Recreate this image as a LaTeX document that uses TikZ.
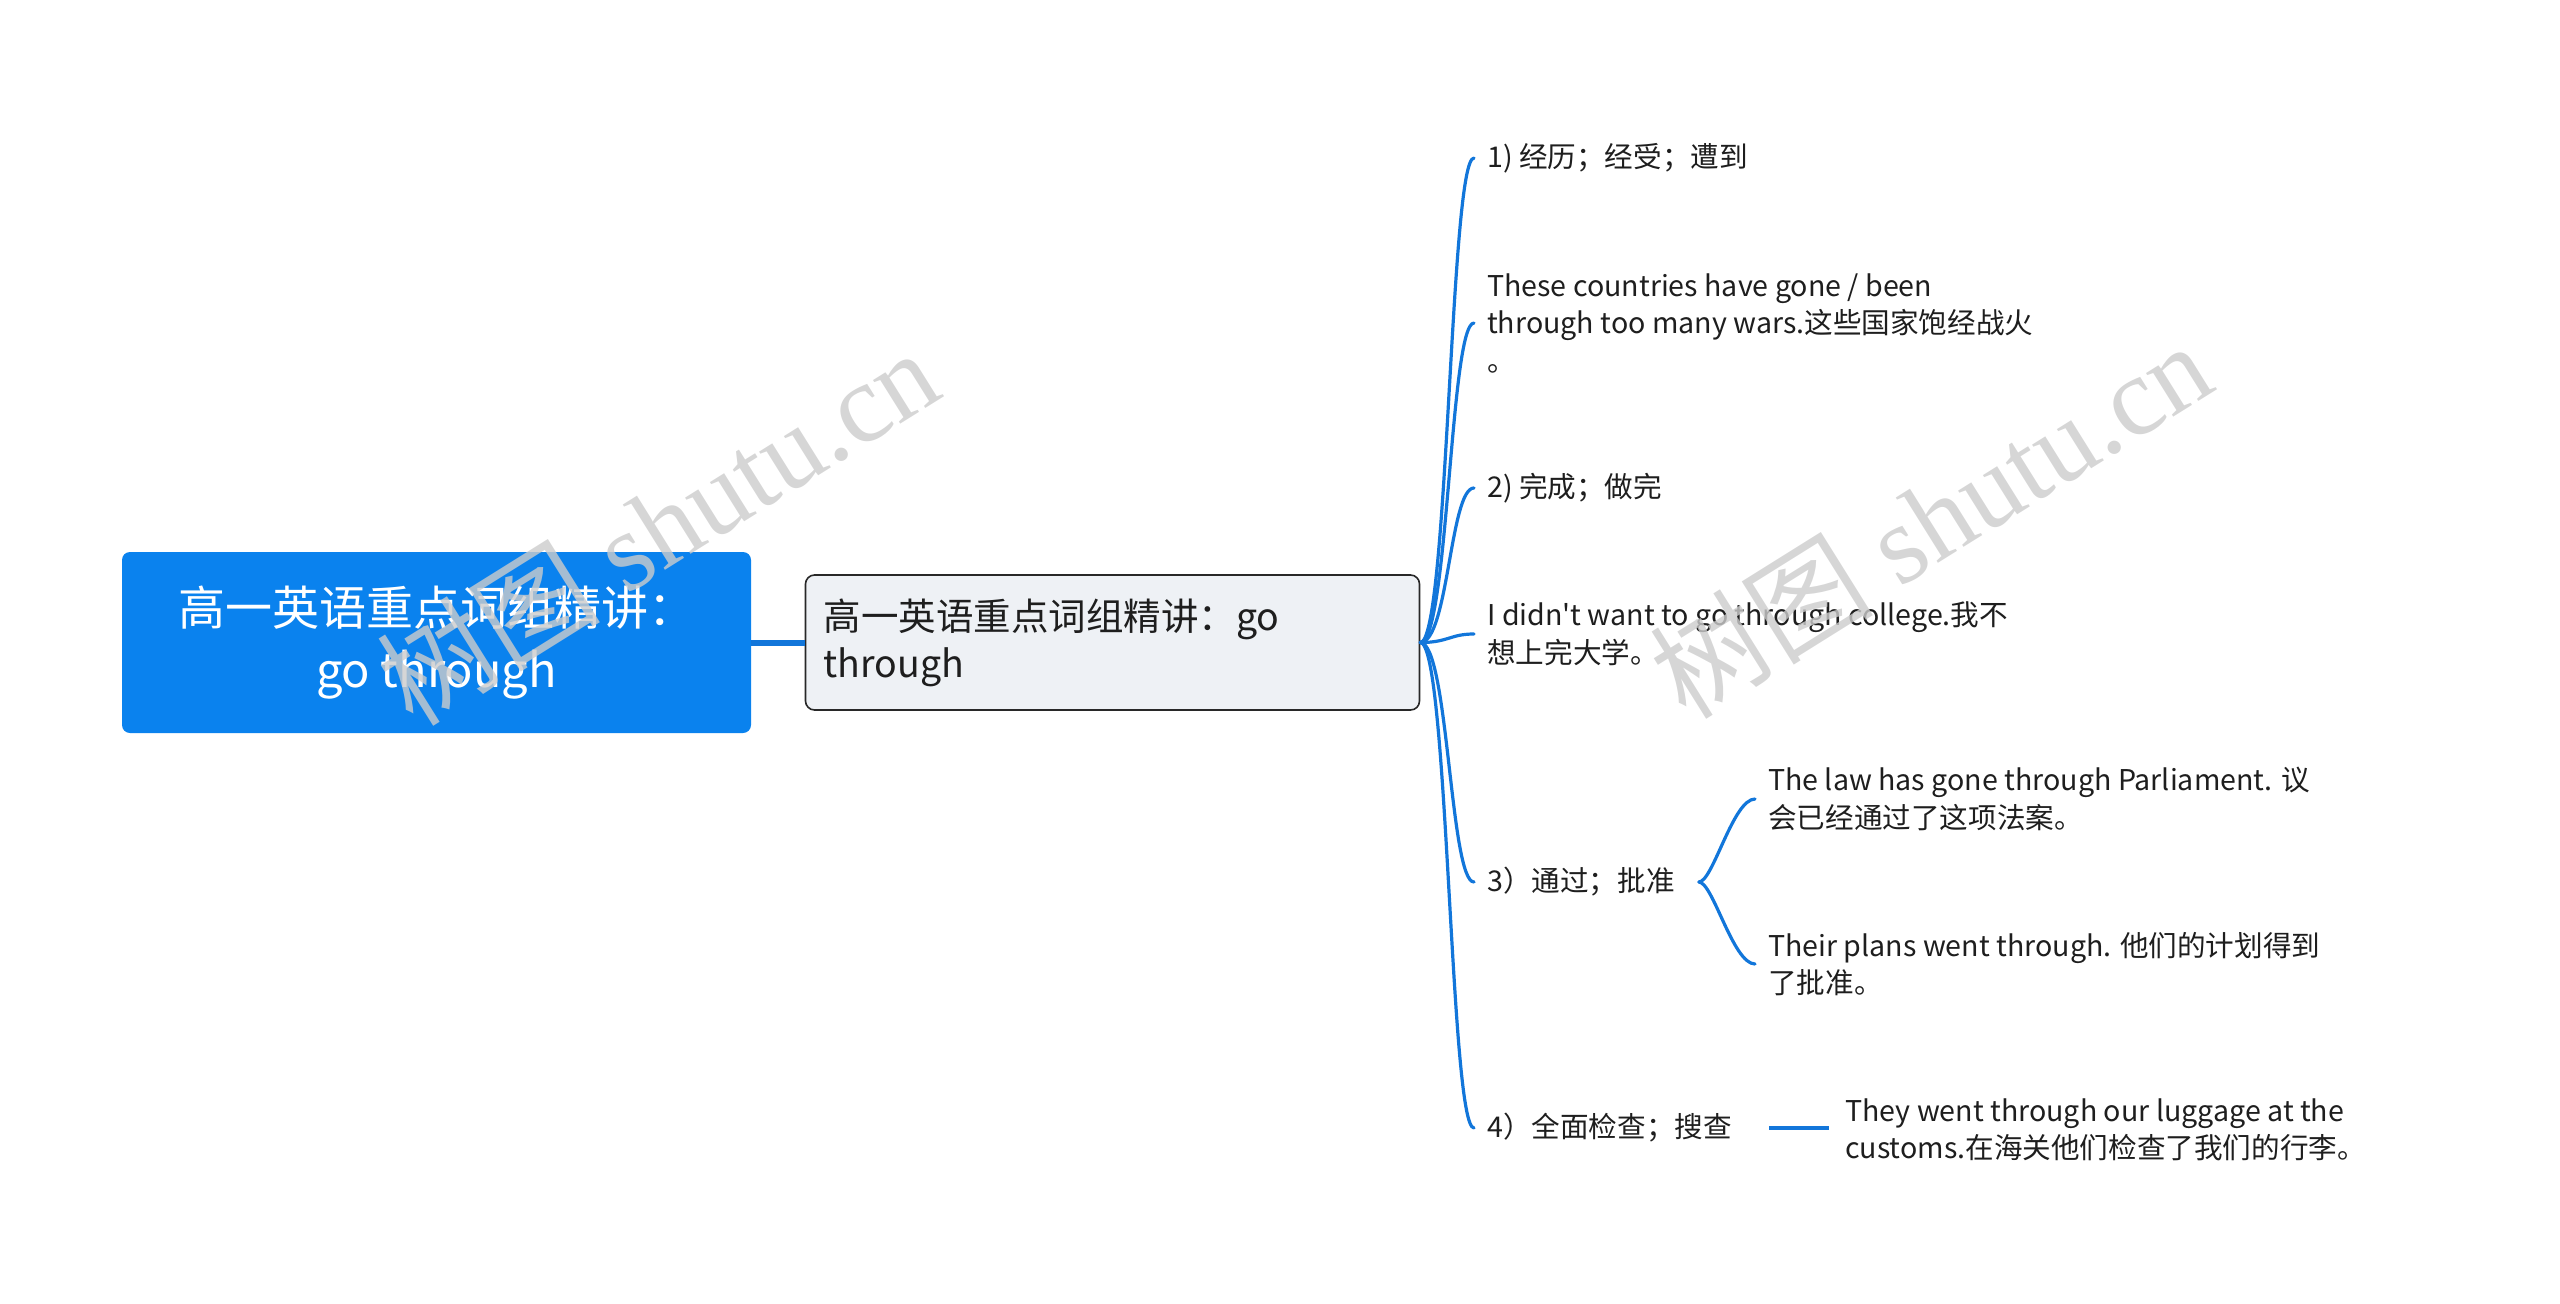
\documentclass[tikz,border=0pt]{standalone}
\usepackage{fontspec}
\newfontfamily\cjkmain{Noto Sans CJK SC}
\newfontfamily\wmlatin{Liberation Serif}
\newfontfamily\wmcjk{Noto Sans CJK SC}
\definecolor{rootblue}{RGB}{10,130,238}
\definecolor{linkblue}{RGB}{18,118,218}
\definecolor{subfill}{RGB}{238,241,245}
\definecolor{subdraw}{RGB}{40,40,40}
\definecolor{txt}{RGB}{30,30,30}
\begin{document}
\begin{tikzpicture}[x=1pt,y=-1pt,
  rootbox/.style={fill=rootblue,rounded corners=8pt,minimum width=629pt,minimum height=181pt,
    text=white,align=center,font=\cjkmain\fontsize{47}{62}\selectfont,inner sep=0pt},
  subbox/.style={fill=subfill,draw=subdraw,line width=1.6pt,rounded corners=9pt,minimum height=135pt,
    text width=578pt,inner xsep=18pt,align=left,text=txt,font=\cjkmain\fontsize{37.5}{47}\selectfont},
  leaf/.style={anchor=west,inner sep=0pt,align=left,text=txt,font=\cjkmain\fontsize{28.6}{37.5}\selectfont},
  conn/.style={draw=linkblue,line width=3.2pt,line cap=round},
  thick conn/.style={draw=linkblue,line width=6pt},
  wm/.style={text=black!20,opacity=0.8,rotate=32,inner sep=0pt}
]
\useasboundingbox (0,0) rectangle (2560,1304);

\node[rootbox] (root) at (436.5,642.5) {高一英语重点词组精讲：\\go through};
\node[subbox] (sub) at (1112.5,642.5) {高一英语重点词组精讲：go\\through};
\draw[thick conn] (root.east) -- (sub.west);

\node[leaf] (l1) at (1487,158) {1) 经历；经受；遭到};
\node[leaf] (l2) at (1487,323) {These countries have gone / been\\through too many wars.这些国家饱经战火\\。};
\node[leaf] (l3) at (1487,488) {2) 完成；做完};
\node[leaf] (l4) at (1487,634) {I didn't want to go through college.我不\\想上完大学。};
\node[leaf] (l5) at (1487,882) {3）通过；批准};
\node[leaf] (l6) at (1487,1128) {4）全面检查；搜查};

\foreach \n in {l1,l2,l3,l4,l5,l6}{
  \coordinate (t\n) at ([xshift=-13pt]\n.west);
  \draw[conn] (sub.east) .. controls +(28,0) and ([xshift=-24pt]t\n) .. (t\n);
}

\node[leaf] (s1) at (1768,799) {The law has gone through Parliament. 议\\会已经通过了这项法案。};
\node[leaf] (s2) at (1768,964) {Their plans went through. 他们的计划得到\\了批准。};
\coordinate (b0) at ([xshift=24pt]l5.east);
\foreach \n in {s1,s2}{
  \coordinate (t\n) at ([xshift=-13pt]\n.west);
  \draw[conn] (b0) .. controls +(14,0) and ([xshift=-22pt]t\n) .. (t\n);
}

\node[leaf] (s3) at (1845,1130) {They went through our luggage at the\\customs.在海关他们检查了我们的行李。};
\coordinate (c0) at ([xshift=37pt]l6.east);
\coordinate (c1) at ([xshift=-16pt]s3.west);
\draw[draw=linkblue,line width=4.5pt] (c0) -- (c1 |- c0);

\node[wm] (w1) at (657,526) {\fontsize{112}{112}\selectfont\wmcjk 树图\wmlatin\ shutu.cn};
\node[wm] (w2) at (1930,519) {\fontsize{112}{112}\selectfont\wmcjk 树图\wmlatin\ shutu.cn};
\end{tikzpicture}
\end{document}
